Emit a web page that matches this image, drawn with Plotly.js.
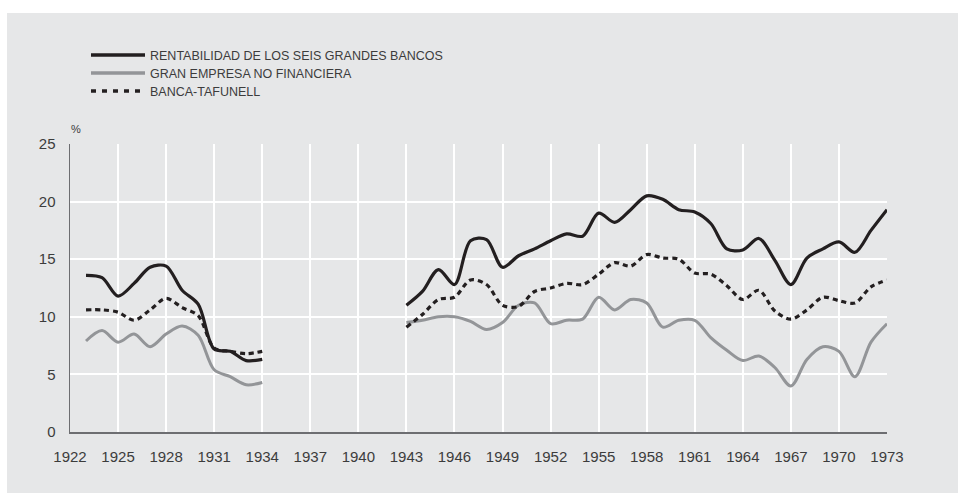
<!DOCTYPE html>
<html>
<head>
<meta charset="utf-8">
<script src="https://cdn.plot.ly/plotly-3.0.1.min.js"></script>
<style>
html,body{margin:0;padding:0;background:#e6e7e8;overflow:hidden;width:100%;height:100%;}
#chart{position:absolute;left:7px;top:13px;width:951px;height:480px;}
#wtop{position:absolute;left:0;top:0;width:100%;height:13px;background:#ffffff;z-index:2;}
#wleft{position:absolute;left:0;top:0;width:7px;height:100%;background:#ffffff;z-index:2;}
</style>
</head>
<body>
<div id="wtop"></div>
<div id="wleft"></div>
<div id="chart"></div>
<script>
// Years (x categories)
const years = [1922,1923,1924,1925,1926,1927,1928,1929,1930,1931,1932,1933,1934,1935,1936,1937,1938,1939,1940,1941,1942,1943,1944,1945,1946,1947,1948,1949,1950,1951,1952,1953,1954,1955,1956,1957,1958,1959,1960,1961,1962,1963,1964,1965,1966,1967,1968,1969,1970,1971,1972,1973];

// RENTABILIDAD DE LOS SEIS GRANDES BANCOS
const bancos = [null,13.6,13.4,11.8,12.9,14.3,14.4,12.3,11.1,7.2,7.0,6.2,6.3,
  null,null,null,null,null,null,null,null,
  11.0,12.2,14.1,12.8,16.6,16.7,14.3,15.3,15.9,16.6,17.2,17.0,19.0,18.2,19.3,20.5,20.2,19.3,19.1,18.1,15.9,15.8,16.8,14.9,12.8,15.1,15.9,16.5,15.6,17.5,19.3];

// GRAN EMPRESA NO FINANCIERA
const empresa = [null,7.9,8.8,7.8,8.5,7.4,8.5,9.2,8.4,5.4,4.8,4.1,4.3,
  null,null,null,null,null,null,null,null,
  9.5,9.7,10.0,10.0,9.6,8.9,9.5,11.0,11.2,9.4,9.7,9.8,11.7,10.6,11.5,11.2,9.1,9.7,9.7,8.2,7.1,6.2,6.6,5.6,4.0,6.3,7.4,7.0,4.8,7.8,9.4];

// BANCA-TAFUNELL
const tafunell = [null,10.6,10.6,10.4,9.7,10.6,11.6,10.8,10.1,7.3,7.0,6.8,7.0,
  null,null,null,null,null,null,null,null,
  9.1,10.2,11.5,11.7,13.2,12.8,11.0,10.9,12.2,12.5,12.9,12.8,13.7,14.7,14.4,15.4,15.1,15.0,13.8,13.7,12.7,11.5,12.3,10.5,9.8,10.6,11.7,11.4,11.2,12.6,13.2];

const seriesNames = ['RENTABILIDAD DE LOS SEIS GRANDES BANCOS','GRAN EMPRESA NO FINANCIERA','BANCA-TAFUNELL'];

const BLACK = '#231f20', GRAY = '#939598', BG = '#e6e7e8', TXT = '#3c3c3c';
const FONT = 'Liberation Sans, Arial, sans-serif';

const traces = [
  {x: years, y: empresa, name: seriesNames[1], type: 'scatter', mode: 'lines',
   line: {color: GRAY, width: 3, shape: 'spline', smoothing: 0.9}, connectgaps: false},
  {x: years, y: tafunell, name: seriesNames[2], type: 'scatter', mode: 'lines',
   line: {color: BLACK, width: 3.2, shape: 'spline', smoothing: 0.9, dash: '5px,4px'}, connectgaps: false},
  {x: years, y: bancos, name: seriesNames[0], type: 'scatter', mode: 'lines',
   line: {color: BLACK, width: 3.2, shape: 'spline', smoothing: 0.9}, connectgaps: false}
];

// custom legend (paper coordinates relative to plot area)
const legRows = [1.309, 1.2465, 1.184];
const legStyles = [{color: BLACK, dash: 'solid'}, {color: GRAY, dash: 'solid'}, {color: BLACK, dash: '5px,6px'}];
const shapes = legRows.map((y, i) => ({
  type: 'line', xref: 'paper', yref: 'paper', x0: 0.0257, x1: 0.0918, y0: y, y1: y,
  line: {color: legStyles[i].color, width: 3.5, dash: legStyles[i].dash}
}));
const annotations = legRows.map((y, i) => ({
  xref: 'paper', yref: 'paper', x: 0.0955, y: y, xanchor: 'left', yanchor: 'middle',
  text: seriesNames[i], showarrow: false, yshift: -1,
  font: {family: FONT, size: 12.5, color: TXT}
}));
annotations.push({xref: 'paper', yref: 'paper', x: 0.0075, y: 1, xanchor: 'center', yanchor: 'bottom',
  yshift: 7, text: '%', showarrow: false, font: {family: FONT, size: 11, color: TXT}});

const layout = {
  width: 951, height: 480,
  margin: {l: 63, r: 71, t: 131, b: 61},
  paper_bgcolor: BG, plot_bgcolor: BG,
  showlegend: false,
  font: {family: FONT, color: TXT},
  xaxis: {
    range: [1922, 1973], tick0: 1922, dtick: 3, tickmode: 'linear',
    showgrid: true, gridcolor: '#ffffff', gridwidth: 2,
    showline: true, linecolor: '#6d6e71', linewidth: 1.5,
    zeroline: false, ticks: '', ticklabelstandoff: 10,
    tickfont: {family: FONT, size: 15, color: TXT}
  },
  yaxis: {
    range: [0, 25], tick0: 0, dtick: 5, tickmode: 'linear',
    showgrid: true, gridcolor: '#ffffff', gridwidth: 2,
    showline: true, linecolor: '#6d6e71', linewidth: 1.5,
    zeroline: false, ticks: '', ticklabelstandoff: 10,
    tickfont: {family: FONT, size: 15, color: TXT}
  },
  shapes: shapes,
  annotations: annotations
};

Plotly.newPlot('chart', traces, layout, {displayModeBar: false, staticPlot: true});
</script>
</body>
</html>
